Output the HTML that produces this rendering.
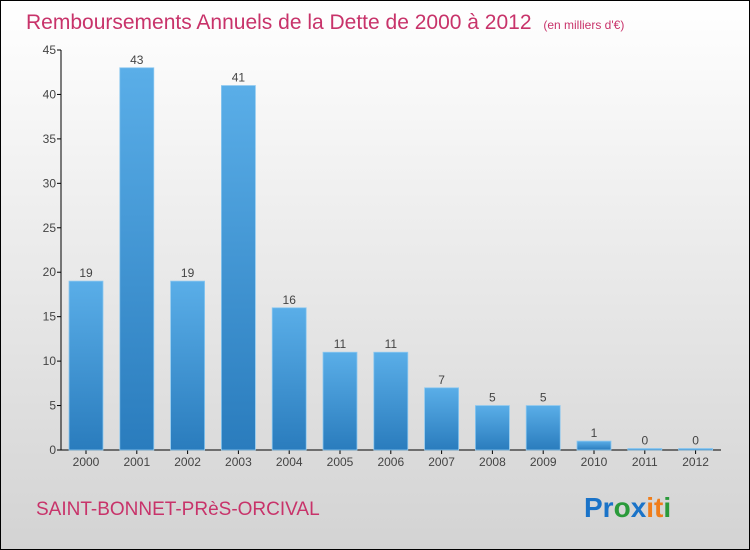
<!DOCTYPE html>
<html><head><meta charset="utf-8"><style>
body{margin:0}
#wrap{position:relative;width:748px;height:548px;border:1px solid #000;background:linear-gradient(#ffffff,#d3d3d3);font-family:"Liberation Sans",sans-serif;overflow:hidden}
</style></head><body>
<div id="wrap">
<svg id="chart" width="748" height="548">
<defs><linearGradient id="bg" x1="0" y1="0" x2="0" y2="1"><stop offset="0" stop-color="#5aaee8"/><stop offset="1" stop-color="#2a7cbd"/></linearGradient></defs>
<text x="25" y="28" font-size="21" fill="#c8336a">Remboursements Annuels de la Dette de 2000 à 2012 <tspan font-size="12" dx="6">(en milliers d'€)</tspan></text>
<g id="axes"></g><g id="bars"></g>
<text x="35" y="514" font-size="19" fill="#c8336a">SAINT-BONNET-PRèS-ORCIVAL</text>
<text x="583" y="516" font-size="28" font-weight="bold"><tspan fill="#1a73c8">Pr</tspan><tspan fill="#2a9a3a">o</tspan><tspan fill="#1a73c8">x</tspan><tspan fill="#f07d1a">it</tspan><tspan fill="#2a9a3a">i</tspan></text>
</svg>
</div>
<script>
const years=["2000","2001","2002","2003","2004","2005","2006","2007","2008","2009","2010","2011","2012"];
const values=[19,43,19,41,16,11,11,7,5,5,1,0,0];
const yTicks=[0,5,10,15,20,25,30,35,40,45];
const NS="http://www.w3.org/2000/svg";
const y0=449,yMax=45,ph=400,x0=60;
function yS(v){return y0-v/yMax*ph;}
function xS(i){return 85+i*50.8;}
function mk(t,a,p){const e=document.createElementNS(NS,t);for(const k in a)e.setAttribute(k,a[k]);p.appendChild(e);return e;}
const ax=document.getElementById('axes'),bs=document.getElementById('bars');
const yl=mk('line',{x1:x0,y1:yS(yMax),x2:x0,y2:y0,stroke:'#000'},ax);


const xl=mk('line',{x1:x0,y1:y0,x2:720,y2:y0,stroke:'#000'},ax);


yTicks.forEach(v=>{
 mk('line',{x1:x0-4,y1:yS(v),x2:x0,y2:yS(v),stroke:'#000'},ax);
 const t=mk('text',{x:x0-5,y:yS(v)+4,'font-size':12,fill:'#444','text-anchor':'end'},ax);
 t.textContent=v;
 
 
});
years.forEach((yr,i)=>{
 const v=values[i],cx=xS(i);
 const h=Math.max(y0-yS(v),1.5);
 const r=mk('rect',{x:cx-17,y:y0-h,width:34,height:h,fill:'url(#bg)',stroke:'#8cc8f0','stroke-width':0.8},bs);
 
 
 const l=mk('text',{x:cx,y:y0-h-4,'font-size':12,fill:'#444','text-anchor':'middle'},bs);
 l.textContent=v;
 
 
 mk('line',{x1:cx,y1:y0,x2:cx,y2:y0+4,stroke:'#000'},ax);
 const t=mk('text',{x:cx,y:y0+16,'font-size':12,fill:'#444','text-anchor':'middle'},ax);
 t.textContent=yr;
 
 
});
</script>
</body></html>
